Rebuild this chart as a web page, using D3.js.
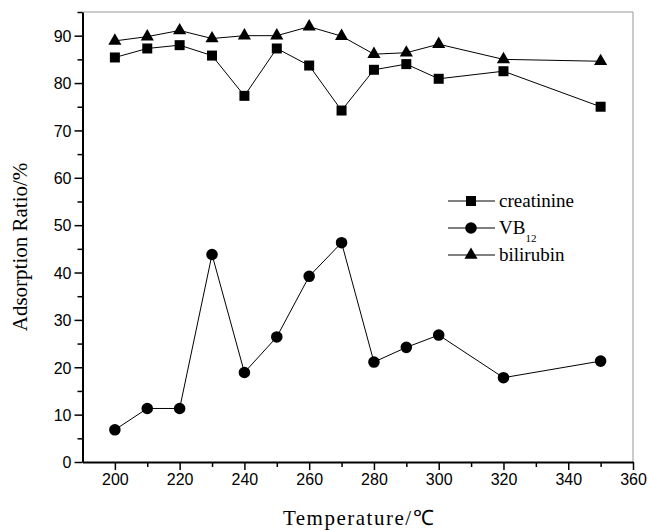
<!DOCTYPE html>
<html>
<head>
<meta charset="utf-8">
<script src="https://cdn.jsdelivr.net/npm/d3@7"></script>
<style>
  body { margin: 0; background: #fff; }
  .tick text { font-family: "Liberation Sans", Arial, sans-serif; font-size: 16px; fill: #000; }
</style>
</head>
<body>
<div class="visualization"></div>
<script>
const temperatures = [200, 210, 220, 230, 240, 250, 260, 270, 280, 290, 300, 320, 350];
const creatinine = [85.4, 87.3, 88.0, 85.8, 77.3, 87.3, 83.7, 74.2, 82.8, 84.0, 80.9, 82.5, 75.0];
const vb12 = [6.8, 11.3, 11.3, 43.8, 18.9, 26.4, 39.2, 46.3, 21.1, 24.2, 26.8, 17.8, 21.3];
const bilirubin = [88.9, 89.8, 91.1, 89.4, 90.0, 90.0, 91.9, 89.9, 86.1, 86.4, 88.2, 85.0, 84.6];
const xTicks = [200, 220, 240, 260, 280, 300, 320, 340, 360];
const yTicks = [0, 10, 20, 30, 40, 50, 60, 70, 80, 90];

const width = 648;
const height = 530;
const plotLeft = 82.5, plotRight = 633, plotTop = 12, plotBottom = 462;

const svg = d3.select(".visualization")
  .append("svg")
  .attr("width", width)
  .attr("height", height);

const x = d3.scaleLinear().domain([190, 360]).range([plotLeft, plotRight]);
const y = d3.scaleLinear().domain([0, 95]).range([plotBottom, plotTop]);

// frame: thin grey top and right
svg.append("path")
  .attr("d", `M${plotLeft},${plotTop}H${plotRight}V${plotBottom}`)
  .attr("fill", "none")
  .attr("stroke", "#999")
  .attr("stroke-width", 1);

// minor ticks
const xMinor = d3.axisBottom(x).tickValues(d3.range(210, 360, 20)).tickSize(5).tickFormat("");
const yMinor = d3.axisLeft(y).tickValues(d3.range(5, 96, 10)).tickSize(5).tickFormat("");

svg.append("g").attr("transform", `translate(0,${plotBottom})`).call(xMinor)
  .call(g => g.select(".domain").remove())
  .call(g => g.selectAll("line").attr("stroke-width", 1.5));
svg.append("g").attr("transform", `translate(${plotLeft},0)`).call(yMinor)
  .call(g => g.select(".domain").remove())
  .call(g => g.selectAll("line").attr("stroke-width", 1.5));

const xAxis = d3.axisBottom(x).tickValues(xTicks).tickSize(8).tickPadding(4).tickSizeOuter(0);
const yAxis = d3.axisLeft(y).tickValues(yTicks).tickSize(8).tickPadding(3).tickSizeOuter(0);

svg.append("g")
  .attr("transform", `translate(0,${plotBottom})`)
  .call(xAxis)
  .call(g => g.select(".domain").attr("stroke-width", 2))
  .call(g => g.selectAll("line").attr("stroke-width", 1.5));

svg.append("g")
  .attr("transform", `translate(${plotLeft},0)`)
  .call(yAxis)
  .call(g => g.select(".domain").attr("stroke-width", 2))
  .call(g => g.selectAll("line").attr("stroke-width", 1.5))
  .call(g => g.selectAll("text").attr("dy", "0.36em"));

// axis titles
svg.append("text")
  .attr("x", 359)
  .attr("y", 525)
  .attr("text-anchor", "middle")
  .style("font-family", "'Liberation Serif', 'Times New Roman', serif")
  .style("font-size", "21px")
  .style("letter-spacing", "1.5px")
  .text("Temperature/\u2103");

svg.append("text")
  .attr("transform", "translate(27,247) rotate(-90)")
  .attr("text-anchor", "middle")
  .style("font-family", "'Liberation Serif', 'Times New Roman', serif")
  .style("font-size", "21px")
  .text("Adsorption Ratio/%");

const line = d3.line()
  .x(d => x(d[0]))
  .y(d => y(d[1]));

const series = [
  { name: "creatinine", values: creatinine, shape: d3.symbolSquare, size: 100 },
  { name: "VB12", values: vb12, shape: d3.symbolCircle, size: 105 },
  { name: "bilirubin", values: bilirubin, shape: d3.symbolTriangle, size: 75 }
];

series.forEach(s => {
  const pts = temperatures.map((t, i) => [t, s.values[i]]);
  svg.append("path")
    .datum(pts)
    .attr("d", line)
    .attr("fill", "none")
    .attr("stroke", "#000")
    .attr("stroke-width", 1);

  svg.selectAll(null)
    .data(pts)
    .enter()
    .append("path")
    .attr("transform", d => `translate(${x(d[0])},${y(d[1])})`)
    .attr("d", d3.symbol().type(s.shape).size(s.size))
    .attr("fill", "#000");
});

// legend
const legend = svg.append("g").attr("transform", "translate(448,201)");
series.forEach((s, i) => {
  const row = legend.append("g").attr("transform", `translate(0,${i * 27})`);
  row.append("line")
    .attr("x1", 0).attr("x2", 47)
    .attr("stroke", "#000").attr("stroke-width", 1);
  row.append("path")
    .attr("transform", "translate(23,0)")
    .attr("d", d3.symbol().type(s.shape).size(s.size))
    .attr("fill", "#000");
  const t = row.append("text")
    .attr("x", 51)
    .attr("y", 6)
    .style("font-family", "'Liberation Serif', 'Times New Roman', serif")
    .style("font-size", "19px");
  if (s.name === "VB12") {
    t.append("tspan").text("VB");
    t.append("tspan").attr("dy", 8).style("font-size", "11px").text("12");
  } else {
    t.text(s.name);
  }
});
</script>
</body>
</html>
